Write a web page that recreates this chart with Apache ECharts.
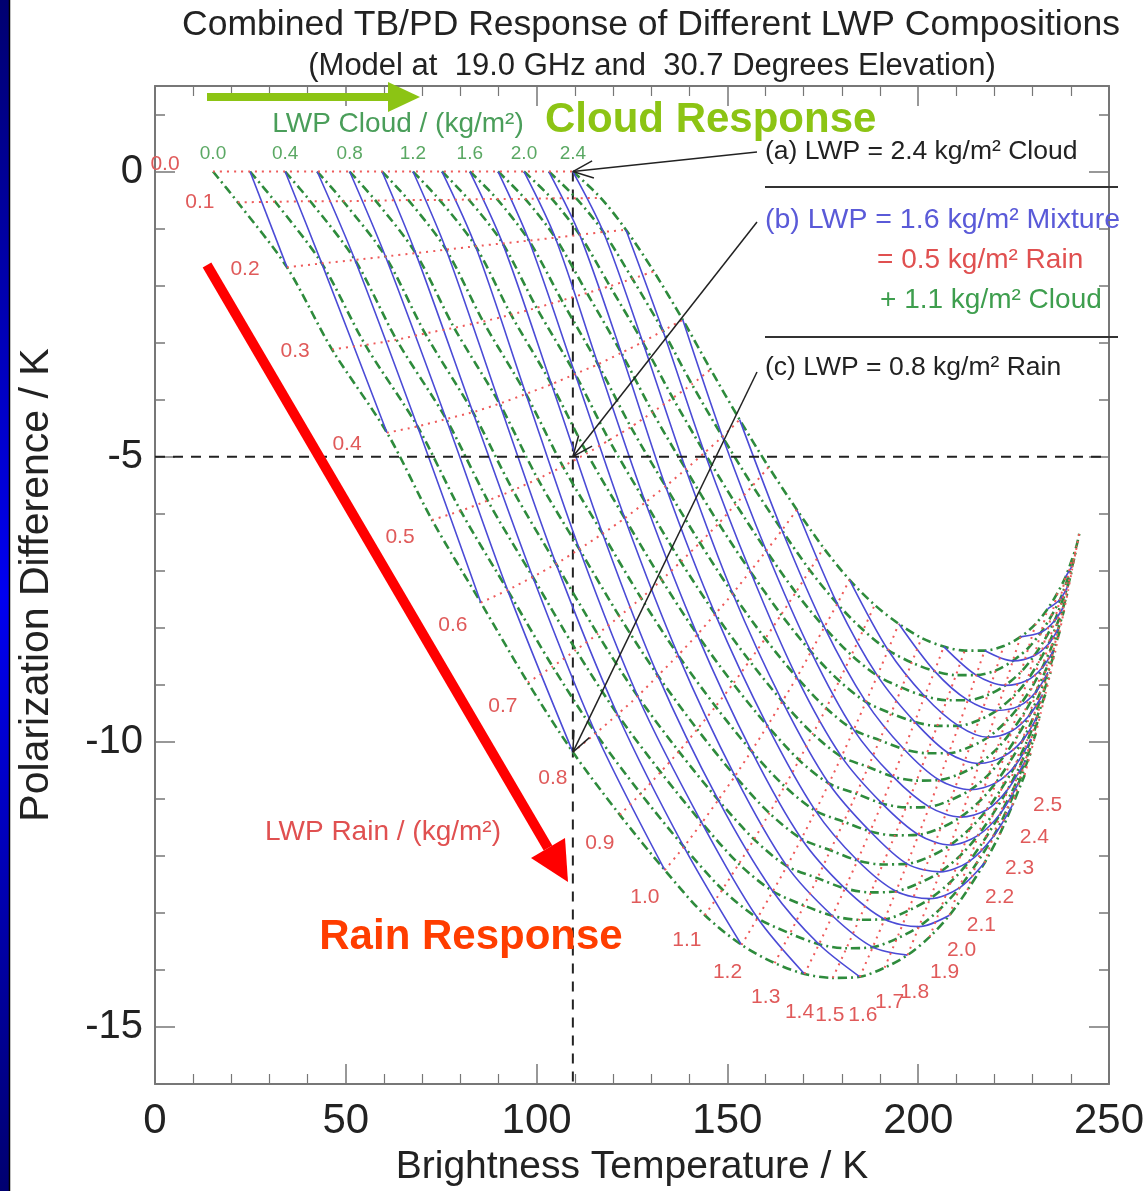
<!DOCTYPE html>
<html><head><meta charset="utf-8">
<script src="https://cdn.jsdelivr.net/npm/echarts@6/dist/echarts.min.js"></script>
<style>html,body{margin:0;padding:0;background:#fff}#c{width:1144px;height:1191px}</style>
</head><body><div id="c"></div><script>
// ---- data ----
const rainLWP = [0.0,0.1,0.2,0.3,0.4,0.5,0.6,0.7,0.8,0.9,1.0,1.1,1.2,1.3,1.4,1.5,1.6,1.7,1.8,1.9,2.0,2.1,2.2,2.3,2.4,2.5];
const cloudLWP = [0.0,0.2,0.4,0.6,0.8,1.0,1.2,1.4,1.6,1.8,2.0,2.2,2.4];
// brightness temperature (K): rows = rain LWP, columns = cloud LWP
const tbGrid = [
[15.2,24.9,34.1,42.5,51.0,59.5,67.6,75.2,82.5,89.9,96.7,103.2,109.5],
[21.7,31.5,40.7,49.3,57.8,66.4,74.6,82.2,89.6,97.0,103.9,110.4,116.8],
[34.6,43.7,52.4,60.4,68.3,76.3,84.0,91.1,98.0,104.9,111.3,117.5,123.4],
[46.4,55.1,63.3,70.8,78.4,86.0,93.3,100.0,106.6,113.2,119.2,125.1,130.7],
[60.8,68.8,76.3,83.3,90.3,97.2,103.9,110.1,116.1,122.2,127.8,133.1,138.3],
[72.6,80.1,87.2,93.8,100.3,106.9,113.2,119.0,124.7,130.4,135.7,140.7,145.6],
[85.4,92.4,99.0,105.1,111.2,117.3,123.1,128.5,133.8,139.1,144.0,148.7,153.2],
[97.7,104.2,110.3,116.0,121.7,127.4,132.8,137.8,142.8,147.7,152.2,156.6,160.8],
[109.5,115.5,121.2,126.5,131.8,137.1,142.1,146.8,151.4,156.0,160.2,164.3,168.2],
[121.8,127.3,132.5,137.3,142.1,146.9,151.5,155.8,159.9,164.1,167.9,171.6,175.2],
[133.6,138.6,143.3,147.6,152.0,156.3,160.5,164.4,168.2,171.9,175.4,178.8,182.0],
[144.1,148.7,153.0,157.0,161.0,165.0,168.8,172.4,175.9,179.3,182.5,185.6,188.6],
[153.7,157.9,161.9,165.6,169.4,173.1,176.6,179.9,183.1,186.3,189.3,192.1,194.9],
[162.4,166.4,170.1,173.6,177.0,180.5,183.8,186.9,189.9,192.9,195.7,198.3,200.9],
[170.2,174.0,177.5,180.8,184.1,187.4,190.5,193.4,196.3,199.1,201.7,204.3,206.7],
[177.6,181.2,184.5,187.6,190.7,193.9,196.8,199.6,202.3,205.0,207.5,209.9,212.2],
[184.7,188.1,191.2,194.2,197.1,200.1,202.9,205.5,208.0,210.6,213.0,215.2,217.4],
[191.2,194.4,197.4,200.2,203.1,205.9,208.5,211.0,213.5,215.9,218.2,220.3,222.4],
[197.2,200.2,203.1,205.8,208.4,211.1,213.7,216.0,218.3,220.6,222.8,224.8,226.8],
[203.0,205.9,208.6,211.1,213.6,216.1,218.5,220.7,222.8,225.0,227.0,228.9,230.8],
[208.2,210.8,213.3,215.7,218.0,220.3,222.5,224.5,226.5,228.6,230.4,232.2,233.9],
[212.9,215.3,217.6,219.7,221.9,224.0,226.0,227.9,229.8,231.6,233.3,234.9,236.5],
[217.4,219.6,221.6,223.5,225.5,227.4,229.2,230.9,232.5,234.2,235.7,237.2,238.6],
[221.3,223.2,225.1,226.8,228.5,230.2,231.8,233.3,234.8,236.3,237.6,238.9,240.2],
[224.7,226.4,228.1,229.6,231.1,232.6,234.0,235.4,236.7,238.0,239.2,240.4,241.5],
[227.9,229.4,230.8,232.1,233.4,234.7,235.9,237.1,238.2,239.3,240.3,241.3,242.3]
];
// polarization difference (K): rows = rain LWP, columns = cloud LWP
const pdGrid = [
[0,0,0,0,0,0,0,0,0,0,0,0,0],
[-0.54,-0.53,-0.52,-0.52,-0.51,-0.50,-0.50,-0.49,-0.48,-0.48,-0.47,-0.47,-0.46],
[-1.68,-1.61,-1.55,-1.49,-1.43,-1.37,-1.31,-1.26,-1.21,-1.16,-1.11,-1.06,-1.02],
[-3.12,-3.04,-2.95,-2.84,-2.74,-2.63,-2.51,-2.39,-2.26,-2.13,-2.01,-1.88,-1.75],
[-4.58,-4.47,-4.34,-4.22,-4.07,-3.90,-3.73,-3.55,-3.38,-3.18,-2.99,-2.79,-2.60],
[-6.11,-5.95,-5.77,-5.59,-5.39,-5.17,-4.94,-4.71,-4.48,-4.22,-3.97,-3.73,-3.47],
[-7.56,-7.34,-7.11,-6.88,-6.62,-6.35,-6.08,-5.80,-5.52,-5.22,-4.93,-4.65,-4.35],
[-8.96,-8.68,-8.39,-8.11,-7.80,-7.48,-7.16,-6.84,-6.51,-6.17,-5.83,-5.51,-5.18],
[-10.18,-9.85,-9.52,-9.20,-8.84,-8.48,-8.12,-7.76,-7.40,-7.01,-6.65,-6.29,-5.93],
[-11.28,-10.91,-10.53,-10.17,-9.78,-9.38,-8.98,-8.58,-8.19,-7.77,-7.38,-6.99,-6.60],
[-12.25,-11.84,-11.42,-11.02,-10.60,-10.16,-9.72,-9.29,-8.87,-8.42,-7.99,-7.58,-7.16],
[-13.04,-12.59,-12.14,-11.71,-11.25,-10.78,-10.32,-9.86,-9.41,-8.93,-8.48,-8.04,-7.60],
[-13.56,-13.09,-12.62,-12.18,-11.70,-11.21,-10.73,-10.26,-9.79,-9.30,-8.84,-8.39,-7.93],
[-13.88,-13.36,-12.87,-12.39,-11.90,-11.40,-10.91,-10.44,-9.97,-9.50,-9.05,-8.61,-8.18],
[-14.07,-13.55,-13.05,-12.57,-12.08,-11.57,-11.08,-10.61,-10.13,-9.65,-9.20,-8.76,-8.33],
[-14.14,-13.62,-13.12,-12.64,-12.15,-11.64,-11.15,-10.68,-10.20,-9.72,-9.27,-8.83,-8.40],
[-14.12,-13.60,-13.11,-12.62,-12.14,-11.63,-11.14,-10.67,-10.20,-9.72,-9.27,-8.83,-8.40],
[-13.96,-13.45,-12.96,-12.48,-12.01,-11.51,-11.02,-10.56,-10.09,-9.62,-9.18,-8.75,-8.32],
[-13.74,-13.24,-12.75,-12.28,-11.81,-11.32,-10.84,-10.38,-9.92,-9.45,-9.01,-8.58,-8.16],
[-13.42,-12.92,-12.45,-11.99,-11.52,-11.04,-10.57,-10.12,-9.66,-9.20,-8.77,-8.35,-7.93],
[-13.04,-12.56,-12.10,-11.64,-11.19,-10.72,-10.25,-9.81,-9.37,-8.92,-8.49,-8.08,-7.67],
[-12.60,-12.13,-11.69,-11.25,-10.81,-10.35,-9.90,-9.48,-9.04,-8.60,-8.19,-7.79,-7.39],
[-12.12,-11.67,-11.25,-10.83,-10.41,-9.97,-9.53,-9.12,-8.70,-8.28,-7.88,-7.50,-7.11],
[-11.63,-11.20,-10.80,-10.40,-9.99,-9.57,-9.16,-8.76,-8.36,-7.95,-7.56,-7.19,-6.82],
[-11.11,-10.71,-10.33,-9.95,-9.57,-9.17,-8.78,-8.41,-8.02,-7.64,-7.27,-6.91,-6.56],
[-10.58,-10.21,-9.86,-9.50,-9.15,-8.78,-8.41,-8.06,-7.70,-7.34,-6.99,-6.66,-6.32]
];
const xTicks = [0,50,100,150,200,250];
const yTicks = [-15,-10,-5,0];
const yMinorTicks = [-16,-15,-14,-13,-12,-11,-10,-9,-8,-7,-6,-5,-4,-3,-2,-1,0,1];
const refPD = -5;          // horizontal dashed reference (K)
const refTB = 109.5;       // vertical dashed reference (K)
const cloudLabelValues = [0.0,0.4,0.8,1.2,1.6,2.0,2.4];

// ---- layout (pixel offsets of rain labels from their nodes) ----
const rainLabelOffset = [[-48,-7],[-38,0],[-42,2],[-37,2],[-40,11],[-32,17],[-28,23],[-25,24],[-20,26],[-20,28],[-20,27],[-18,25],[-14,27],[-9,34],[-5,38],[-3,37],[3,38],[5,35],[7,37],[15,35],[12,35],[14,35],[15,34],[20,33],[22,32],[23,30]];

const FONT = "'Liberation Sans', Arial, Helvetica, sans-serif";
const AX = '#777';
const chart = echarts.init(document.getElementById('c'), null, {renderer:'canvas'});

const series = [];
series.push({type:'line', data:[[refTB,0],[refTB,-16]], symbol:'none', silent:true, z:1,
  lineStyle:{color:'#222', width:2, type:[10,8]}});
cloudLWP.forEach((c,j)=>{
  series.push({type:'line', smooth:0.3, symbol:'none', silent:true, z:2,
    data: rainLWP.map((r,i)=>[tbGrid[i][j], pdGrid[i][j]]),
    lineStyle:{color:'#2e8b3c', width:2.6, type:[9,4,2,4]}});
});
for (let T=2; T<=48; T+=2){
  const pts=[];
  for (let j=cloudLWP.length-1;j>=0;j--){
    const ri = T-2*j;
    if (ri>=0 && ri<rainLWP.length) pts.push([tbGrid[ri][j], pdGrid[ri][j]]);
  }
  if (pts.length>1) series.push({type:'line', smooth:0.3, symbol:'none', silent:true, z:3, data:pts,
    lineStyle:{color:'#4b4bd6', width:1.6}});
}
rainLWP.forEach((r,i)=>{
  series.push({type:'line', smooth:0.2, symbol:'none', silent:true, z:4,
    data: cloudLWP.map((c,j)=>[tbGrid[i][j], pdGrid[i][j]]),
    lineStyle:{color:'#ee5a5a', width:2, type:[2,5]}});
});
series.push({type:'line', data:[[0,refPD],[250,refPD]], symbol:'none', silent:true, z:5,
  lineStyle:{color:'#222', width:2, type:[10,8]}});

function xAx(pos, labels){
  return {type:'value', min:0, max:250, interval:50, position:pos,
    axisLine:{show:true, onZero:false, lineStyle:{color:AX, width:2}},
    axisTick:{inside:true, length:20, lineStyle:{color:AX, width:1.5}},
    minorTick:{show:true, splitNumber:5, length:10, lineStyle:{color:AX, width:1.2}},
    axisLabel:{show:labels, fontSize:42, color:'#222', margin:16, fontFamily:FONT},
    splitLine:{show:false}, minorSplitLine:{show:false},
    name: labels ? 'Brightness Temperature / K' : '', nameLocation:'middle', nameGap:64,
    nameTextStyle:{fontSize:39, color:'#222', fontFamily:FONT}};
}
function yAx(pos, major, labels){
  return {type:'value', min:-16, max:1.5, position:pos,
    axisLine:{show:major, onZero:false, lineStyle:{color:AX, width:2}},
    axisTick:{inside:true, length: major?20:10, customValues: major?yTicks:yMinorTicks, lineStyle:{color:AX, width:1.5}},
    axisLabel:{show:labels, customValues:yTicks, fontSize:40, color:'#222', margin:12, fontFamily:FONT},
    splitLine:{show:false},
    name: labels ? 'Polarization Difference / K' : '', nameLocation:'middle', nameGap:98, nameRotate:90,
    nameTextStyle:{fontSize:41, color:'#222', fontFamily:FONT}};
}

const option = {
  animation:false,
  backgroundColor:'#fff',
  grid:{left:155, right:35, top:86, bottom:107, containLabel:false, outerBoundsMode:'none'},
  xAxis:[xAx('bottom',true), xAx('top',false)],
  yAxis:[yAx('left',true,true), yAx('left',false,false), yAx('right',true,false), yAx('right',false,false)],
  series: series
};
chart.setOption(option);

const P = (x,y)=>chart.convertToPixel({xAxisIndex:0, yAxisIndex:0}, [x,y]);
const g = [];
function txt(x,y,text,size,color,align,weight){
  g.push({type:'text', x:x, y:y, z:100, style:{text:text, fill:color, fontSize:size, fontFamily:FONT,
    fontWeight:weight||'normal', align:align||'center', textAlign:align||'center', verticalAlign:'middle', textVerticalAlign:'middle'}});
}
// left blue strip
g.push({type:'rect', shape:{x:0,y:0,width:9,height:1191}, z:50,
  style:{fill:new echarts.graphic.LinearGradient(0,0,0,1,[{offset:0,color:'#000070'},{offset:0.5,color:'#0000f0'},{offset:1,color:'#000070'}])}});
g.push({type:'line', shape:{x1:9.5,y1:0,x2:9.5,y2:1191}, z:51, style:{stroke:'#000', lineWidth:1.5}});
// titles
txt(651,25,'Combined TB/PD Response of Different LWP Compositions',35.5,'#222');
txt(652,66,'(Model at  19.0 GHz and  30.7 Degrees Elevation)',31,'#222');
// rain labels
rainLWP.forEach((r,i)=>{
  const p=P(tbGrid[i][0], pdGrid[i][0]); const o=rainLabelOffset[i];
  txt(p[0]+o[0], p[1]+o[1], r.toFixed(1), 21, '#e05a5a');
});
// cloud labels
cloudLabelValues.forEach(v=>{
  const j = cloudLWP.indexOf(v);
  const p=P(tbGrid[0][j], pdGrid[0][j]);
  txt(p[0], p[1]-18, v.toFixed(1), 19, '#5aa863');
});
txt(398,124,'LWP Cloud / (kg/m\u00B2)',28,'#4a9e5a');
txt(383,832,'LWP Rain / (kg/m\u00B2)',28,'#e05050');
// annotation arrows
function arrow(tail, tip){
  g.push({type:'line', shape:{x1:tail[0],y1:tail[1],x2:tip[0],y2:tip[1]}, z:90, style:{stroke:'#222', lineWidth:1.5}});
  const a = Math.atan2(tail[1]-tip[1], tail[0]-tip[0]);
  [0.4,-0.4].forEach(d=>{
    g.push({type:'line', shape:{x1:tip[0],y1:tip[1],x2:tip[0]+22*Math.cos(a+d),y2:tip[1]+22*Math.sin(a+d)}, z:90, style:{stroke:'#222', lineWidth:1.5}});
  });
}
arrow([757,152], P(tbGrid[0][12], pdGrid[0][12]));
arrow([757,222], P(refTB, refPD));
arrow([757,372], P(tbGrid[8][0], pdGrid[8][0]));
txt(765,152,'(a) LWP = 2.4 kg/m\u00B2 Cloud',26.5,'#222','left');
g.push({type:'line', shape:{x1:765,y1:187,x2:1118,y2:187}, z:90, style:{stroke:'#333', lineWidth:2}});
txt(765,220,'(b) LWP = 1.6 kg/m\u00B2 Mixture',28.5,'#5a5ad8','left');
txt(877,260,'= 0.5 kg/m\u00B2 Rain',28,'#e05050','left');
txt(880,300,'+ 1.1 kg/m\u00B2 Cloud',28,'#3e9e4e','left');
g.push({type:'line', shape:{x1:765,y1:337,x2:1118,y2:337}, z:90, style:{stroke:'#333', lineWidth:2}});
txt(765,368,'(c) LWP = 0.8 kg/m\u00B2 Rain',26.5,'#222','left');
// big response arrows
g.push({type:'line', shape:{x1:207,y1:97,x2:392,y2:97}, z:95, style:{stroke:'#8cc414', lineWidth:8}});
g.push({type:'polygon', shape:{points:[[388,82],[420,97],[388,112]]}, z:95, style:{fill:'#8cc414'}});
txt(545,120,'Cloud Response',42,'#8cc414','left','bold');
g.push({type:'line', shape:{x1:207,y1:265,x2:548,y2:848}, z:95, style:{stroke:'#ff0000', lineWidth:10}});
g.push({type:'polygon', shape:{points:[[531,858],[568,882],[565,838]]}, z:95, style:{fill:'#ff0000'}});
txt(471,937,'Rain Response',42,'#ff3d00','center','bold');

chart.setOption({graphic:{elements:g}});
</script></body></html>
